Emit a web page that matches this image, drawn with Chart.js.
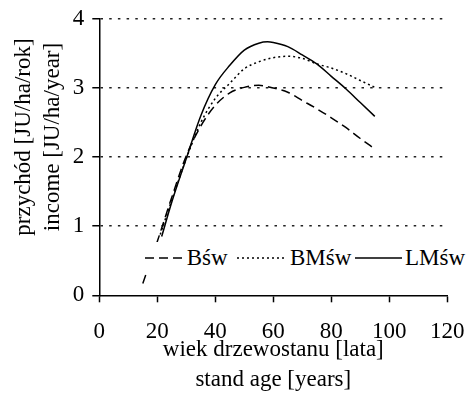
<!DOCTYPE html>
<html><head><meta charset="utf-8">
<script src="https://cdn.jsdelivr.net/npm/chart.js@4"></script>
<style>
html,body{margin:0;padding:0;background:#fff;}
#wrap{position:relative;width:473px;height:393px;}
#legend{position:absolute;left:140px;top:242px;height:32px;width:333px;background:#fff;font-family:"Liberation Serif",serif;font-size:23px;color:#000;}
#legend .t{position:absolute;top:0;line-height:32px;white-space:nowrap;}
#legend svg{position:absolute;top:14px;}
</style></head>
<body>
<div id="wrap"><canvas id="c" width="473" height="393"></canvas>
<div id="legend">
<svg style="left:5px" width="37" height="4"><line x1="0" y1="2" x2="37" y2="2" stroke="#000" stroke-width="1.5" stroke-dasharray="9,5"/></svg>
<span class="t" id="l0" style="left:46.7px"></span>
<svg style="left:96.7px" width="50" height="4"><line x1="0" y1="2" x2="50" y2="2" stroke="#000" stroke-width="1.5" stroke-dasharray="2,3"/></svg>
<span class="t" id="l1" style="left:150px"></span>
<svg style="left:215px" width="47" height="4"><line x1="0" y1="2" x2="47" y2="2" stroke="#000" stroke-width="1.5"/></svg>
<span class="t" id="l2" style="left:265px"></span>
</div></div>
<script>
const xTicks = [0,20,40,60,80,100,120];
const yTicks = [0,1,2,3,4];
const seriesNames = ['Bśw','BMśw','LMśw'];
const xTitle = ['wiek drzewostanu [lata]','stand age [years]'];
const yTitle = ['przychód [JU/ha/rok]','income [JU/ha/year]'];

const ageBsw = [15,20,25,30,35,40,45,50,55,60,65,70,75,80,85,90,95];
const incomeBsw = [0.17,0.78,1.42,2.02,2.45,2.75,2.93,3.01,3.04,3.0,2.94,2.82,2.70,2.57,2.43,2.27,2.12];
const ageBMsw = [21,25,30,35,40,45,50,55,60,65,70,75,80,85,90,95];
const incomeBMsw = [0.88,1.38,1.98,2.5,2.85,3.07,3.28,3.38,3.44,3.46,3.43,3.35,3.29,3.21,3.11,3.01];
const ageLMsw = [21.5,25,30,35,40,45,50,55,58,60,65,70,75,80,85,90,95];
const incomeLMsw = [0.85,1.35,1.98,2.6,3.05,3.33,3.55,3.65,3.67,3.66,3.60,3.48,3.35,3.17,2.99,2.79,2.59];

seriesNames.forEach((n,i)=>document.getElementById('l'+i).textContent=n);

const pts = (xs,ys)=>xs.map((x,i)=>({x:x,y:ys[i]}));
const FONT = "'Liberation Serif', 'Times New Roman', serif";
const common = {borderColor:'#000',borderWidth:1.5,pointRadius:0,fill:false,cubicInterpolationMode:'monotone'};
// leading spaces nudge the rotated title toward the top, as in the source figure
const yTitleShifted = yTitle.map(t=>'       '+t);

new Chart(document.getElementById('c'), {
  type:'line',
  data:{datasets:[
    Object.assign({label:seriesNames[0],data:pts(ageBsw,incomeBsw),borderDash:[9,5]},common),
    Object.assign({label:seriesNames[1],data:pts(ageBMsw,incomeBMsw),borderDash:[2,3]},common),
    Object.assign({label:seriesNames[2],data:pts(ageLMsw,incomeLMsw)},common)
  ]},
  options:{
    responsive:false,animation:false,
    layout:{padding:{left:0,top:19,right:25.7,bottom:0}},
    plugins:{legend:{display:false},tooltip:{enabled:false}},
    scales:{
      x:{type:'linear',min:xTicks[0],max:xTicks[xTicks.length-1],
        afterFit:s=>{s.height=97.7;s.paddingLeft=0;s.paddingRight=0;s.paddingTop=0;s.paddingBottom=0;},
        afterBuildTicks:s=>{s.ticks=xTicks.map(v=>({value:v}));},
        ticks:{color:'#000',font:{family:FONT,size:23},padding:16,maxRotation:0,autoSkip:false},
        grid:{drawOnChartArea:false,drawTicks:true,tickLength:7,tickColor:'#000',tickWidth:1.5},
        border:{color:'#000',width:1.5},
        title:{display:true,text:xTitle,color:'#000',font:{family:FONT,size:23,lineHeight:1.3},padding:{top:0,bottom:-2}}
      },
      y:{min:yTicks[0],max:yTicks[yTicks.length-1],
        afterFit:s=>{s.width=99.3;s.paddingLeft=0;s.paddingRight=0;s.paddingTop=0;s.paddingBottom=0;},
        afterBuildTicks:s=>{s.ticks=yTicks.map(v=>({value:v}));},
        ticks:{color:'#000',font:{family:FONT,size:23},padding:8,autoSkip:false},
        grid:{color:c=>c.tick&&c.tick.value===0?'rgba(0,0,0,0)':'#222',lineWidth:1.5,drawTicks:true,tickLength:7,tickColor:'#000',tickWidth:1.5},
        border:{color:'#000',width:1.5,dash:[2.5,6.2]},
        title:{display:true,text:yTitleShifted,color:'#000',font:{family:FONT,size:23,lineHeight:1.25},padding:{top:10,bottom:0}}
      }
    }
  }
});
</script>
</body></html>
